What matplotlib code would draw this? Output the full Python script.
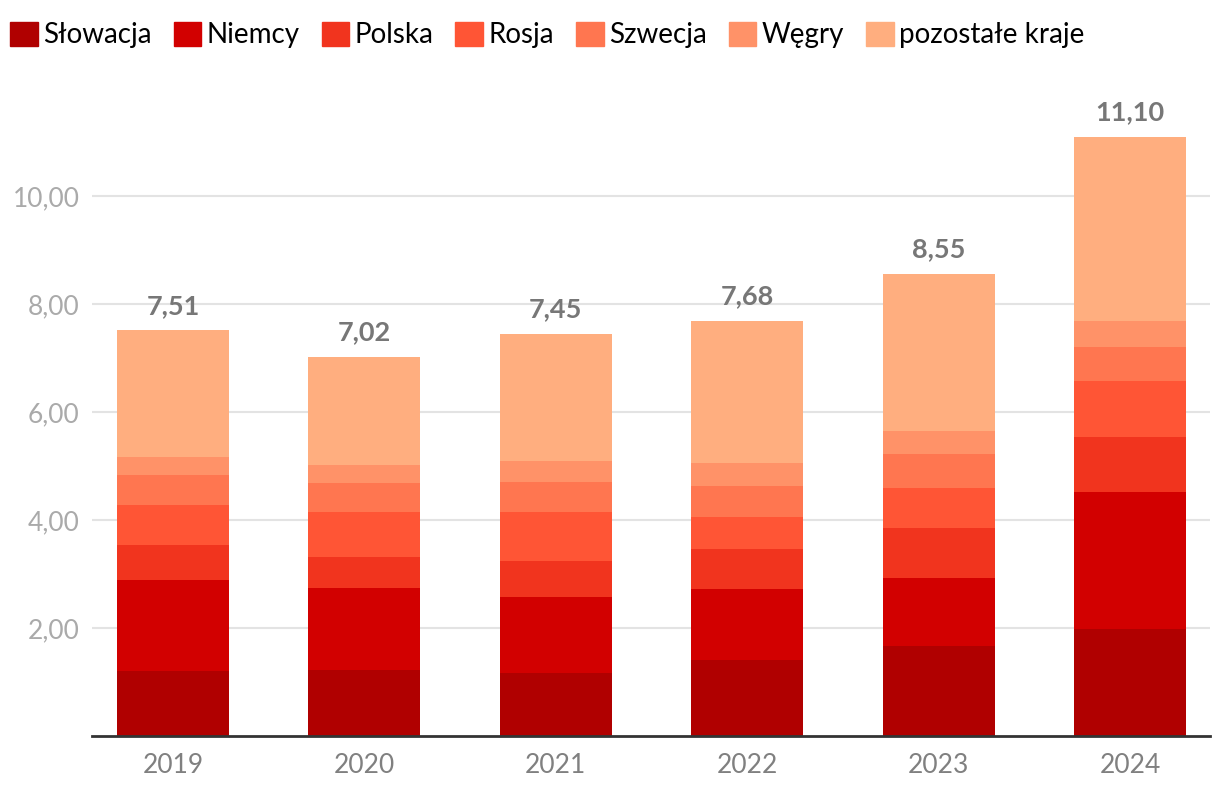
import numpy as np
import matplotlib
matplotlib.use("Agg")
import matplotlib.pyplot as plt
from matplotlib.patches import Patch

plt.rcParams['font.family'] = ['Lato', 'DejaVu Sans']

# dane
lata = ["2019", "2020", "2021", "2022", "2023", "2024"]
slowacja  = [1.20, 1.23, 1.17, 1.41, 1.67, 1.99]
niemcy    = [1.69, 1.51, 1.41, 1.32, 1.26, 2.52]
polska    = [0.65, 0.58, 0.67, 0.74, 0.92, 1.02]
rosja     = [0.74, 0.82, 0.89, 0.59, 0.75, 1.05]
szwecja   = [0.56, 0.55, 0.57, 0.57, 0.62, 0.63]
wegry     = [0.32, 0.32, 0.39, 0.43, 0.43, 0.47]
pozostale = [2.35, 2.01, 2.35, 2.62, 2.90, 3.42]

serie = [("Słowacja", slowacja), ("Niemcy", niemcy), ("Polska", polska),
         ("Rosja", rosja), ("Szwecja", szwecja), ("Węgry", wegry),
         ("pozostałe kraje", pozostale)]
kolory = ["#b00000", "#d20000", "#f1341e", "#ff5535", "#ff7650", "#ff9268", "#ffae7f"]

fig = plt.figure(figsize=(12.2, 8.0), dpi=100)
ax = fig.add_axes([92/1220, 0.08, (1210-92)/1220, 0.80])

x = np.arange(len(lata))
dol = np.zeros(len(lata))
for (nazwa, wart), kol in zip(serie, kolory):
    ax.bar(x, wart, 0.585, bottom=dol, color=kol, label=nazwa, zorder=3)
    dol += np.array(wart)

# sumy nad słupkami
for xi, s in zip(x, dol):
    ax.annotate(f"{s:.2f}".replace(".", ","), (xi, s), xytext=(0, 12),
                textcoords="offset points", ha="center", va="baseline",
                fontsize=19.5, fontweight="bold", color="#777777")

ax.set_xlim(-0.423, 5.418)
ax.set_ylim(0, 11.852)
ax.set_xticks(x)
ax.set_xticklabels(lata)
ax.set_yticks([2, 4, 6, 8, 10])
ax.set_yticklabels(["2,00", "4,00", "6,00", "8,00", "10,00"])
ax.tick_params(axis="x", length=0, pad=12, labelsize=19, labelcolor="#808080")
ax.tick_params(axis="y", length=0, pad=9, labelsize=19, labelcolor="#aaaaaa")
ax.grid(axis="y", color="#e3e3e3", linewidth=1.5, zorder=0)
for s in ["left", "right", "top"]:
    ax.spines[s].set_visible(False)
ax.spines["bottom"].set_color("#333333")
ax.spines["bottom"].set_linewidth(2)
ax.spines["bottom"].set_zorder(4)

uchwyty = [Patch(color=k, label=n) for (n, _), k in zip(serie, kolory)]
fig.legend(handles=uchwyty, loc="center left", bbox_to_anchor=(10/1220, 1 - 35/800),
           ncol=7, frameon=False, fontsize=20, handlelength=1.0, handleheight=1.0,
           handletextpad=0.2, columnspacing=0.78, borderpad=0, borderaxespad=0)

fig.savefig("out.png", dpi=100)
